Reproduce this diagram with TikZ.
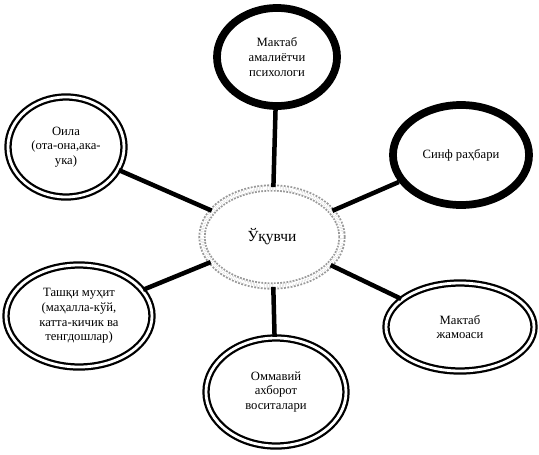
\documentclass[tikz,border=0pt]{standalone}
\usepackage{fontspec}
\setmainfont{Liberation Serif}
\usepackage{tikz}
\usetikzlibrary{shapes.geometric}
\tikzset{%
  base/.style = {ellipse, fill = white, align = center, inner sep = 0pt, font = \fontsize{9}{10.5}\selectfont},
  heavy/.style = {base, draw = black, line width = 5.5pt},
  twin/.style = {base, draw = black, line width = 1.6pt, double = white, double distance = 2pt},
  pupil/.style = {base, draw = gray!80, densely dotted, line width = 1.3pt, double = white, double distance = 2.5pt, font = \fontsize{11}{13}\selectfont},
  link/.style = {line width = 3.2pt, black}
}
\begin{document}
\begin{tikzpicture}[x=0.025cm, y=-0.025cm]
    \useasboundingbox (0,0) rectangle (539,454);
    \node[pupil, minimum width = 3.5cm, minimum height = 2.45cm] at (272,237) (Pupil) {Ўқувчи};
    \node[heavy, minimum width = 3.0cm, minimum height = 2.45cm] at (277,57) (Psych) {Мактаб\\амалиётчи\\психологи};
    \node[heavy, minimum width = 3.4cm, minimum height = 2.5cm] at (461,155) (Teacher) {Синф раҳбари};
    \node[twin, minimum width = 2.9cm, minimum height = 2.5cm] at (66,147) (Family) {Оила\\(ота-она,ака-\\ука)};
    \node[twin, minimum width = 3.65cm, minimum height = 2.55cm] at (79,316) (Milieu) {Ташқи муҳит\\(маҳалла-кўй,\\катта-кичик ва\\тенгдошлар)};
    \node[twin, minimum width = 3.7cm, minimum height = 2.2cm] at (460,327) (Staff) {Мактаб\\жамоаси};
    \node[twin, minimum width = 3.5cm, minimum height = 2.7cm] at (276,392) (Media) {Оммавий\\ахборот\\воситалари};
    \foreach \n in {Psych, Teacher, Family, Milieu, Staff, Media}
      \draw[link] (Pupil) -- (\n);
\end{tikzpicture}
\end{document}
